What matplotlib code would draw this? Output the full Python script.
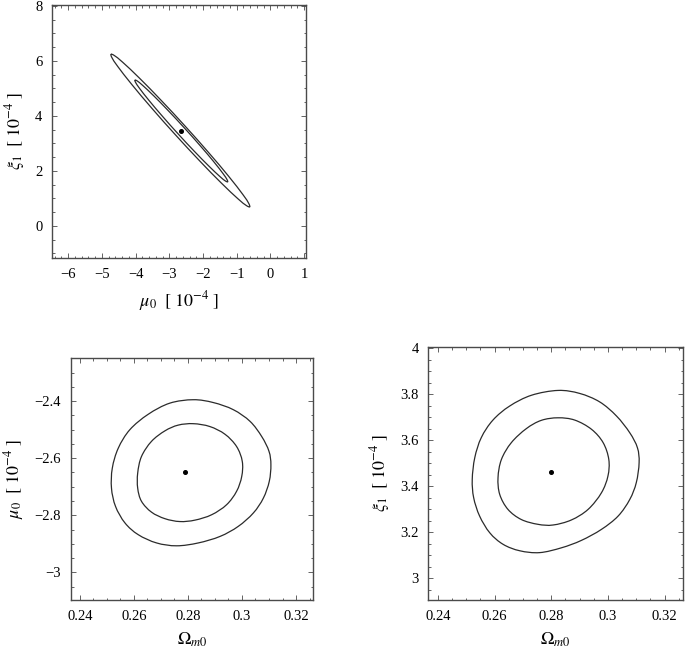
import matplotlib
matplotlib.use("Agg")
import matplotlib.pyplot as plt
import numpy as np
from matplotlib.path import Path
from matplotlib.patches import PathPatch
from matplotlib.ticker import MultipleLocator, FuncFormatter

plt.rcParams["font.family"] = ["Liberation Serif", "DejaVu Serif"]
plt.rcParams["mathtext.fontset"] = "stix"

# --- panel (a): mu0 vs xi1, both in units of 1e-4 ---
mu_xi_outer_x = [-4.730, -4.623, -4.382, -3.885, -3.242, -2.530, -1.835, -1.241, -0.820, -0.649,
                 -0.616, -0.723, -0.964, -1.461, -2.104, -2.816, -3.511, -4.105, -4.526, -4.697]
mu_xi_outer_y = [6.240, 6.186, 5.947, 5.370, 4.563, 3.624, 2.665, 1.803, 1.141, 0.826,
                 0.690, 0.744, 0.983, 1.560, 2.367, 3.306, 4.265, 5.128, 5.789, 6.104]
mu_xi_inner_x = [-4.020, -3.948, -3.789, -3.456, -3.026, -2.550, -2.086, -1.688, -1.407, -1.292,
                 -1.270, -1.342, -1.502, -1.834, -2.264, -2.740, -3.204, -3.602, -3.884, -3.998]
mu_xi_inner_y = [5.300, 5.264, 5.105, 4.720, 4.181, 3.555, 2.916, 2.341, 1.900, 1.690,
                 1.600, 1.636, 1.795, 2.181, 2.718, 3.345, 3.984, 4.559, 5.000, 5.210]
mu_xi_best = (-2.65, 3.46)

# --- panel (b): Omega_m0 vs mu0 ---
om_mu_outer_x = [0.2820, 0.2894, 0.2968, 0.3030, 0.3073, 0.3100, 0.3107, 0.3101, 0.3079, 0.3042,
                 0.2986, 0.2919, 0.2838, 0.2758, 0.2684, 0.2616, 0.2567, 0.2532, 0.2517, 0.2520,
                 0.2542, 0.2585, 0.2653, 0.2733]
om_mu_outer_y = [-2.395, -2.405, -2.430, -2.471, -2.524, -2.576, -2.623, -2.681, -2.740, -2.792,
                 -2.839, -2.874, -2.897, -2.907, -2.897, -2.868, -2.827, -2.769, -2.705, -2.635,
                 -2.565, -2.500, -2.446, -2.407]
om_mu_inner_x = [0.2820, 0.2881, 0.2937, 0.2980, 0.3001, 0.2999, 0.2980, 0.2943, 0.2888, 0.2826,
                 0.2770, 0.2715, 0.2665, 0.2628, 0.2614, 0.2614, 0.2628, 0.2665, 0.2715, 0.2764]
om_mu_inner_y = [-2.479, -2.489, -2.516, -2.559, -2.611, -2.664, -2.716, -2.763, -2.798, -2.817,
                 -2.822, -2.812, -2.789, -2.751, -2.705, -2.652, -2.594, -2.541, -2.504, -2.484]
om_mu_best = (0.279, -2.65)

# --- panel (c): Omega_m0 vs xi1 ---
om_xi_outer_x = [0.2824, 0.2900, 0.2971, 0.3030, 0.3077, 0.3104, 0.3110, 0.3100, 0.3077, 0.3036,
                 0.2977, 0.2906, 0.2836, 0.2759, 0.2689, 0.2630, 0.2583, 0.2547, 0.2526, 0.2521,
                 0.2530, 0.2553, 0.2594, 0.2653, 0.2730]
om_xi_outer_y = [3.817, 3.804, 3.767, 3.706, 3.633, 3.568, 3.503, 3.416, 3.343, 3.271,
                 3.213, 3.165, 3.133, 3.112, 3.120, 3.148, 3.198, 3.271, 3.351, 3.430,
                 3.525, 3.612, 3.688, 3.749, 3.796]
om_xi_inner_x = [0.2824, 0.2883, 0.2942, 0.2983, 0.3003, 0.3000, 0.2977, 0.2930, 0.2871, 0.2806,
                 0.2753, 0.2694, 0.2647, 0.2618, 0.2612, 0.2624, 0.2659, 0.2712, 0.2765]
om_xi_inner_y = [3.698, 3.688, 3.648, 3.590, 3.517, 3.445, 3.372, 3.300, 3.254, 3.232,
                 3.235, 3.256, 3.300, 3.365, 3.438, 3.517, 3.590, 3.651, 3.687]
om_xi_best = (0.280, 3.463)

line_color = "#2b2b2b"
frame_color = "#4a4a4a"


def fmt_tick(v, pos):
    s = f"{v:g}"
    if s in ("-0", "-0.0"):
        s = "0"
    return s.replace("-", "\u2212")


def closed_curve(xs, ys):
    # smooth closed path through the traced points (Catmull-Rom as cubic Beziers)
    pts = np.column_stack([xs, ys])
    n = len(pts)
    verts = [pts[0]]
    codes = [Path.MOVETO]
    for i in range(n):
        p0, p1, p2, p3 = pts[i - 1], pts[i], pts[(i + 1) % n], pts[(i + 2) % n]
        verts += [p1 + (p2 - p0) / 6, p2 - (p3 - p1) / 6, p2]
        codes += [Path.CURVE4] * 3
    return Path(verts, codes)


def draw_panel(ax, contours, best, xlim, ylim, xmaj, xmin, ymaj, ymin, xlabel, ylabel):
    for xs, ys in contours:
        ax.add_patch(PathPatch(closed_curve(xs, ys), fill=False,
                               edgecolor=line_color, lw=0.9))
    ax.plot([best[0]], [best[1]], "o", color="black", ms=2.6)
    ax.set_xlim(*xlim)
    ax.set_ylim(*ylim)
    ax.xaxis.set_major_locator(MultipleLocator(xmaj))
    ax.xaxis.set_minor_locator(MultipleLocator(xmin))
    ax.yaxis.set_major_locator(MultipleLocator(ymaj))
    ax.yaxis.set_minor_locator(MultipleLocator(ymin))
    ax.xaxis.set_major_formatter(FuncFormatter(fmt_tick))
    ax.yaxis.set_major_formatter(FuncFormatter(fmt_tick))
    ax.tick_params(which="both", direction="in", top=True, right=True,
                   color=frame_color, width=0.6, labelsize=10.5, pad=7)
    ax.tick_params(which="major", length=3.5)
    ax.tick_params(which="minor", length=1.8)
    for sp in ax.spines.values():
        sp.set_color(frame_color)
        sp.set_linewidth(1.0)
    ax.set_xlabel(xlabel, fontsize=13, labelpad=6)
    ax.set_ylabel(ylabel, fontsize=13, labelpad=6)


fig = plt.figure(figsize=(6.85, 6.5), dpi=100)

ax1 = fig.add_axes([0.0759, 0.6031, 0.3701, 0.3892])
draw_panel(ax1, [(mu_xi_outer_x, mu_xi_outer_y), (mu_xi_inner_x, mu_xi_inner_y)], mu_xi_best,
           (-6.48, 1.04), (-1.17, 8.03), 1, 0.2, 2, 0.5,
           r"$\mu_0\ \ [\;10^{-4}\;]$", r"$\xi_1\ \ [\;10^{-4}\;]$")

ax2 = fig.add_axes([0.1032, 0.0769, 0.3542, 0.3718])
draw_panel(ax2, [(om_mu_outer_x, om_mu_outer_y), (om_mu_inner_x, om_mu_inner_y)], om_mu_best,
           (0.2366, 0.3264), (-3.097, -2.25), 0.02, 0.005, 0.2, 0.05,
           r"$\Omega_{\mathit{m0}}$", r"$\mu_0\ \ [\;10^{-4}\;]$")

ax3 = fig.add_axes([0.6253, 0.0769, 0.3714, 0.3897])
draw_panel(ax3, [(om_xi_outer_x, om_xi_outer_y), (om_xi_inner_x, om_xi_inner_y)], om_xi_best,
           (0.2366, 0.3264), (2.906, 4.007), 0.02, 0.005, 0.2, 0.05,
           r"$\Omega_{\mathit{m0}}$", r"$\xi_1\ \ [\;10^{-4}\;]$")

fig.savefig("out.png", dpi=100)
